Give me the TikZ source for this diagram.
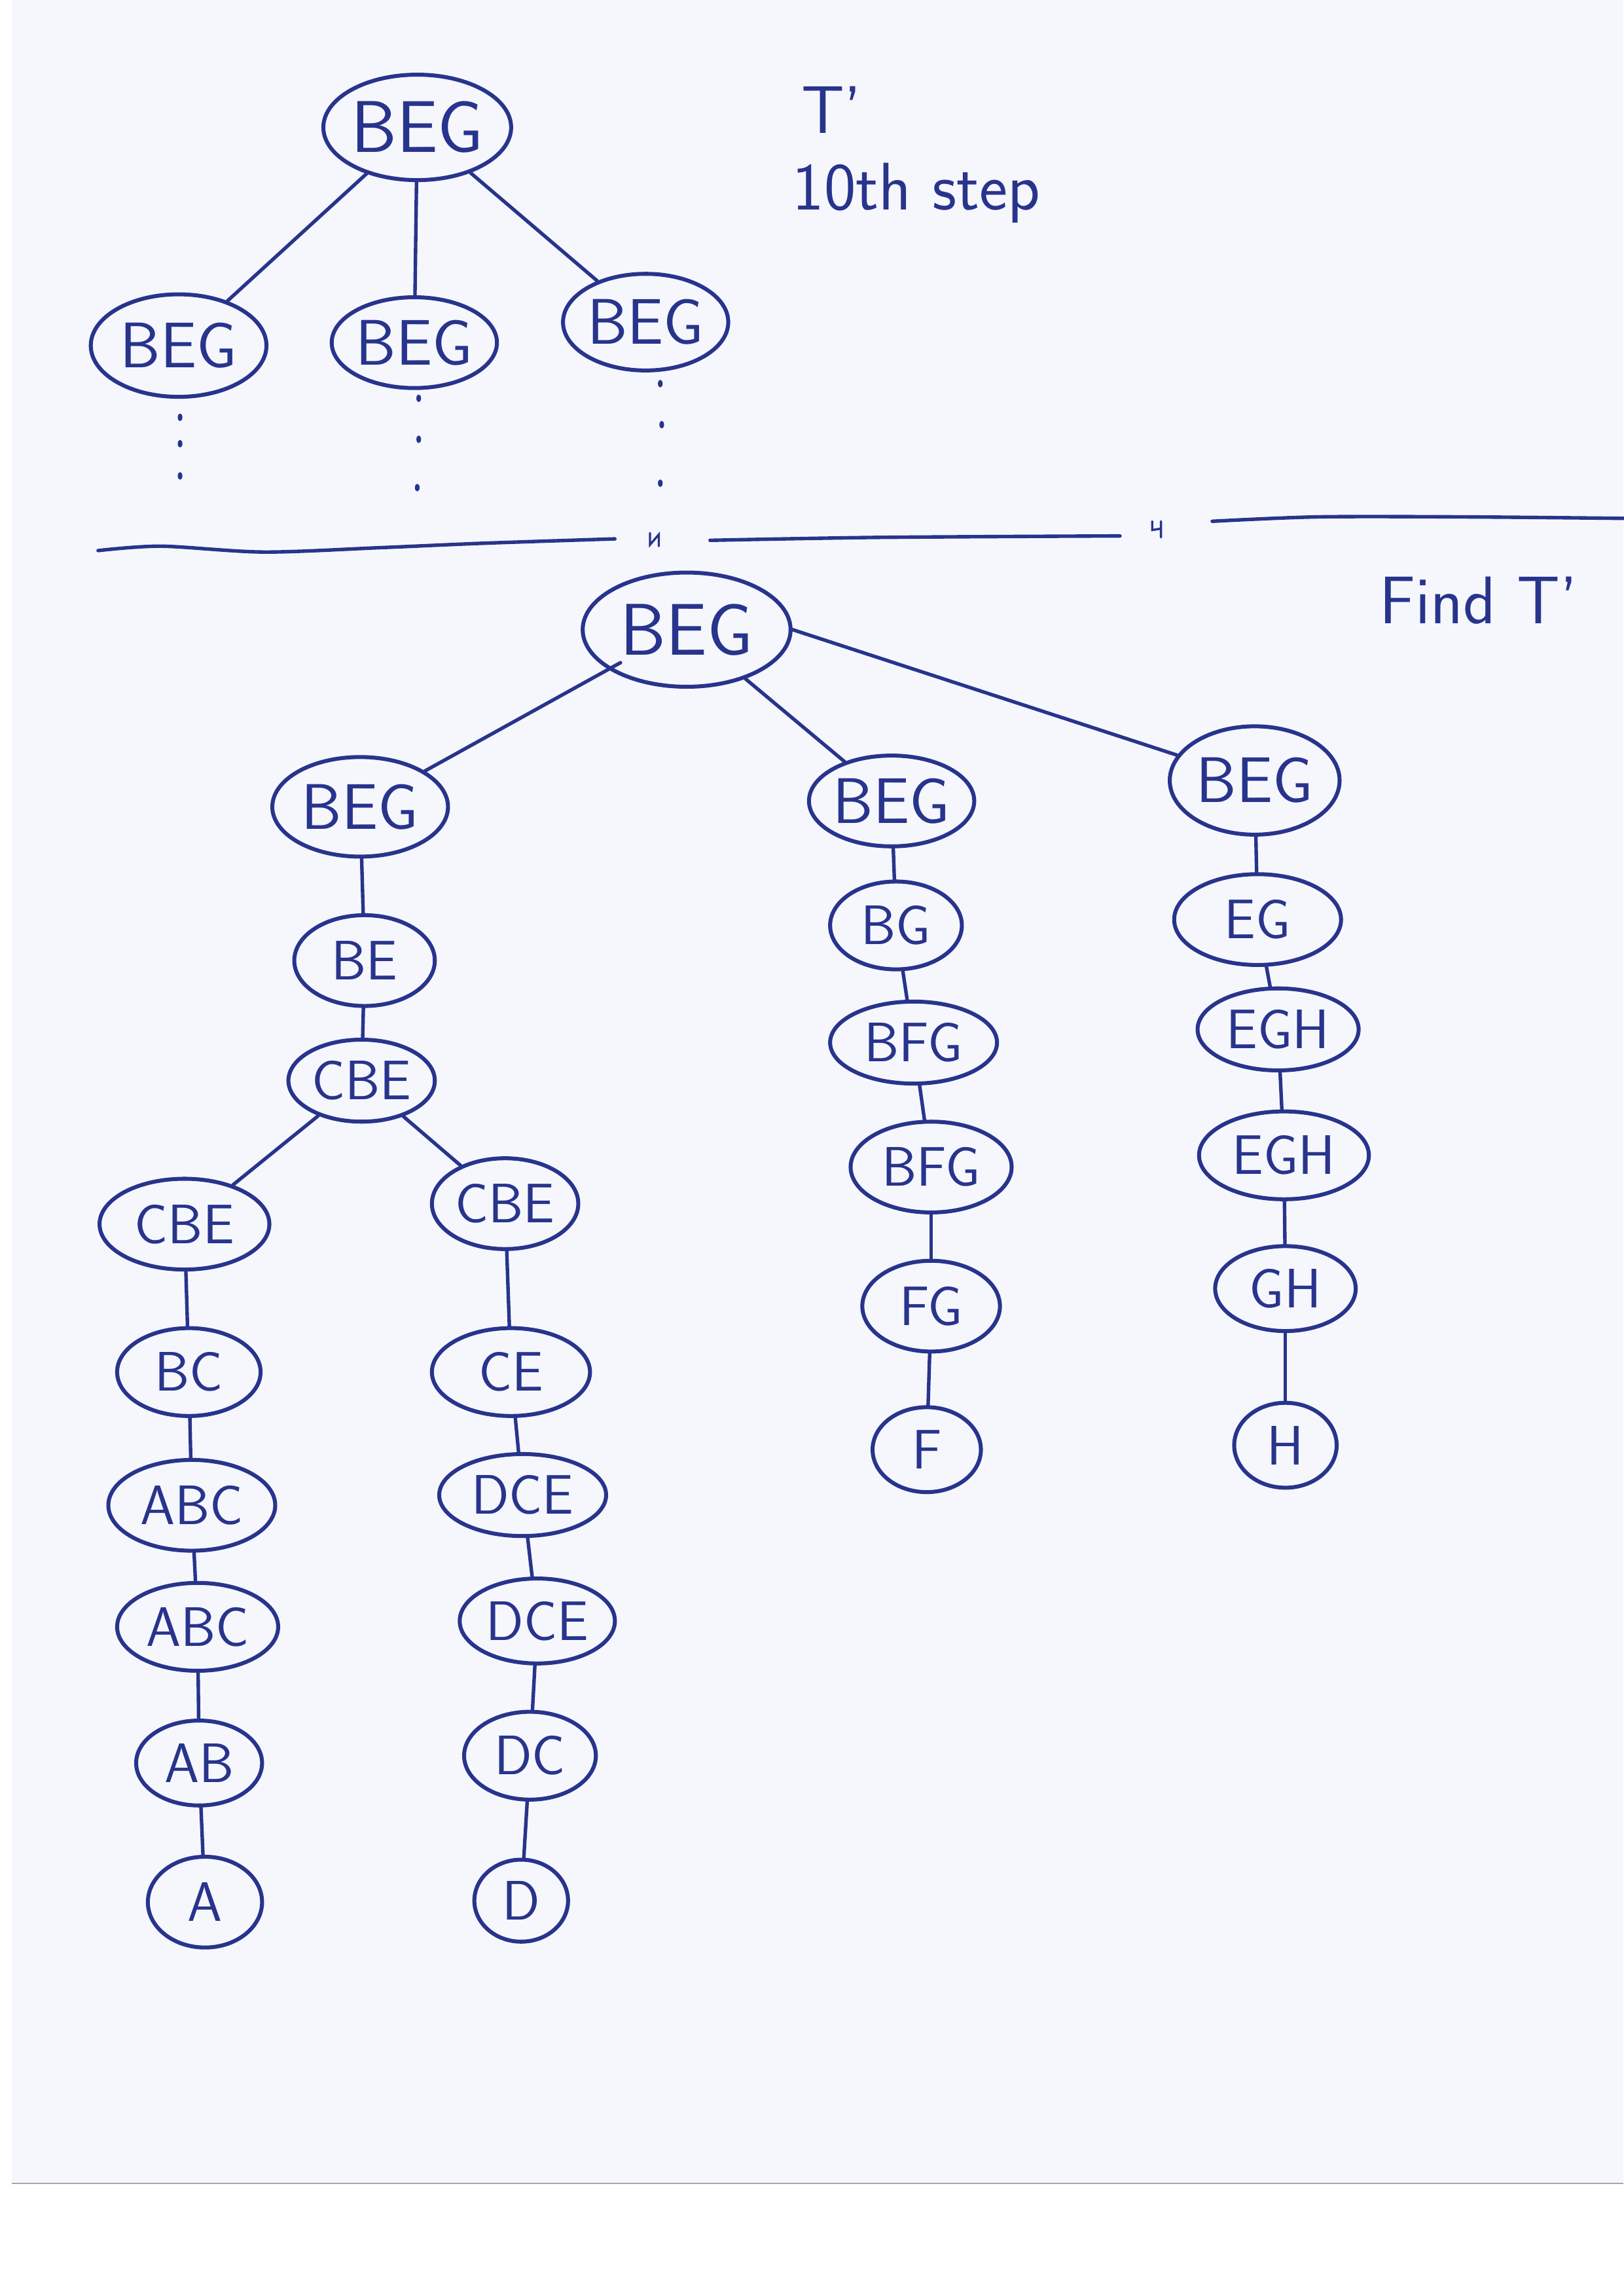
\documentclass[tikz,border=0pt]{standalone}
\usetikzlibrary{shapes.geometric}
\definecolor{ink}{RGB}{40,52,140}
\definecolor{paper}{RGB}{245,247,253}
\begin{document}
\begin{tikzpicture}[x=1pt,y=-1pt,
  inkline/.style={draw=ink,line width=2.4pt,line cap=round,line join=round},
  tn/.style={shape=ellipse,draw=ink,line width=2.7pt,inner sep=0pt,text=ink,
     font=\sffamily\fontsize{38}{40}\selectfont},
  big/.style={font=\sffamily\fontsize{44}{46}\selectfont},
  huge/.style={font=\sffamily\fontsize{50}{52}\selectfont},
  note/.style={text=ink,font=\sffamily\fontsize{46}{50}\selectfont,inner sep=0pt},
  dotmark/.style={fill=ink,draw=none}]
\useasboundingbox (0,0) rectangle (1109,1568);
\fill[white] (0,0) rectangle (1109,1568);
\fill[paper] (8,0) rectangle (1109,1491);
\draw[gray!70,line width=1pt] (8,1491) -- (1109,1491);

% ---------- top tree ----------
\node[tn,huge,minimum width=122,minimum height=72] (t0) at (285,87) {BEG};
\node[tn,big,minimum width=120,minimum height=70] (t1) at (122,236) {BEG};
\node[tn,big,minimum width=106,minimum height=62] (t2) at (283,234) {BEG};
\node[tn,big,minimum width=108,minimum height=66] (t3) at (441,220) {BEG};
\draw[inkline] (t0) -- (t1);
\draw[inkline] (t0) -- (t2);
\draw[inkline] (t0) -- (t3);
\foreach \x/\y in {123/285,123/303,123/325,286/272,286/300,285/333,451/262,452/290,451/330}
  \fill[dotmark] (\x,\y) ellipse (1.6 and 2.6);

\node[note] (tp) at (568,75) {T'};
\node[note] (step) at (626,132) {10th step};
\node[note] (find) at (1010,410) {Find T'};

% ---------- separator ----------
\draw[inkline] plot[smooth] coordinates {(67,376) (110,373) (180,377) (260,374) (330,371) (420,368)};
\draw[inkline] plot[smooth] coordinates {(485,369) (600,367) (765,366)};
\draw[inkline] plot[smooth] coordinates {(828,356) (900,353) (1000,353) (1109,354)};
\draw[ink,line width=1.5pt,line cap=round] (444,364) -- (444,372) -- (450,365) -- (450,373);
\draw[ink,line width=1.5pt,line cap=round] (787,356) -- (787,362) -- (793,361) (793,356) -- (793,367);

% ---------- lower tree ----------
\node[tn,huge,minimum width=142,minimum height=78] (r) at (469,430) {BEG};
\node[tn,big,minimum width=120,minimum height=68] (a) at (246,551) {BEG};
\node[tn,big,minimum width=110,minimum height=62] (b) at (609,547) {BEG};
\node[tn,big,minimum width=116,minimum height=74] (c) at (857,533) {BEG};
\draw[inkline] (r.south west) ++(6,-6) -- (a);
\draw[inkline] (r) -- (b);
\draw[inkline] (r.east) -- (c);

\node[tn,minimum width=96,minimum height=62] (a1) at (249,656) {BE};
\node[tn,minimum width=100,minimum height=56] (a2) at (247,738) {CBE};
\node[tn,minimum width=116,minimum height=62] (aL) at (126,836) {CBE};
\node[tn,minimum width=100,minimum height=62] (aR) at (345,822) {CBE};
\draw[inkline] (a) -- (a1);
\draw[inkline] (a1) -- (a2);
\draw[inkline] (a2) -- (aL);
\draw[inkline] (a2) -- (aR);

\node[tn,minimum width=98,minimum height=60] (aL1) at (129,937) {BC};
\node[tn,minimum width=114,minimum height=62] (aL2) at (131,1028) {ABC};
\node[tn,minimum width=110,minimum height=60] (aL3) at (135,1111) {ABC};
\node[tn,minimum width=86,minimum height=58] (aL4) at (136,1204) {AB};
\node[tn,minimum width=78,minimum height=62] (aL5) at (140,1299) {A};
\draw[inkline] (aL) -- (aL1);
\draw[inkline] (aL1) -- (aL2);
\draw[inkline] (aL2) -- (aL3);
\draw[inkline] (aL3) -- (aL4);
\draw[inkline] (aL4) -- (aL5);

\node[tn,minimum width=108,minimum height=60] (aR1) at (349,937) {CE};
\node[tn,minimum width=114,minimum height=56] (aR2) at (357,1021) {DCE};
\node[tn,minimum width=106,minimum height=58] (aR3) at (367,1107) {DCE};
\node[tn,minimum width=90,minimum height=60] (aR4) at (362,1199) {DC};
\node[tn,minimum width=64,minimum height=56] (aR5) at (356,1298) {D};
\draw[inkline] (aR) -- (aR1);
\draw[inkline] (aR1) -- (aR2);
\draw[inkline] (aR2) -- (aR3);
\draw[inkline] (aR3) -- (aR4);
\draw[inkline] (aR4) -- (aR5);

\node[tn,minimum width=90,minimum height=60] (b1) at (612,632) {BG};
\node[tn,minimum width=114,minimum height=56] (b2) at (624,712) {BFG};
\node[tn,minimum width=110,minimum height=62] (b3) at (636,797) {BFG};
\node[tn,minimum width=94,minimum height=62] (b4) at (636,892) {FG};
\node[tn,minimum width=74,minimum height=58] (b5) at (633,990) {F};
\draw[inkline] (b) -- (b1);
\draw[inkline] (b1) -- (b2);
\draw[inkline] (b2) -- (b3);
\draw[inkline] (b3) -- (b4);
\draw[inkline] (b4) -- (b5);

\node[tn,minimum width=114,minimum height=62] (c1) at (859,628) {EG};
\node[tn,minimum width=110,minimum height=56] (c2) at (873,703) {EGH};
\node[tn,minimum width=116,minimum height=60] (c3) at (877,789) {EGH};
\node[tn,minimum width=96,minimum height=58] (c4) at (878,880) {GH};
\node[tn,minimum width=70,minimum height=58] (c5) at (878,987) {H};
\draw[inkline] (c) -- (c1);
\draw[inkline] (c1) -- (c2);
\draw[inkline] (c2) -- (c3);
\draw[inkline] (c3) -- (c4);
\draw[inkline] (c4) -- (c5);
\end{tikzpicture}
\end{document}
